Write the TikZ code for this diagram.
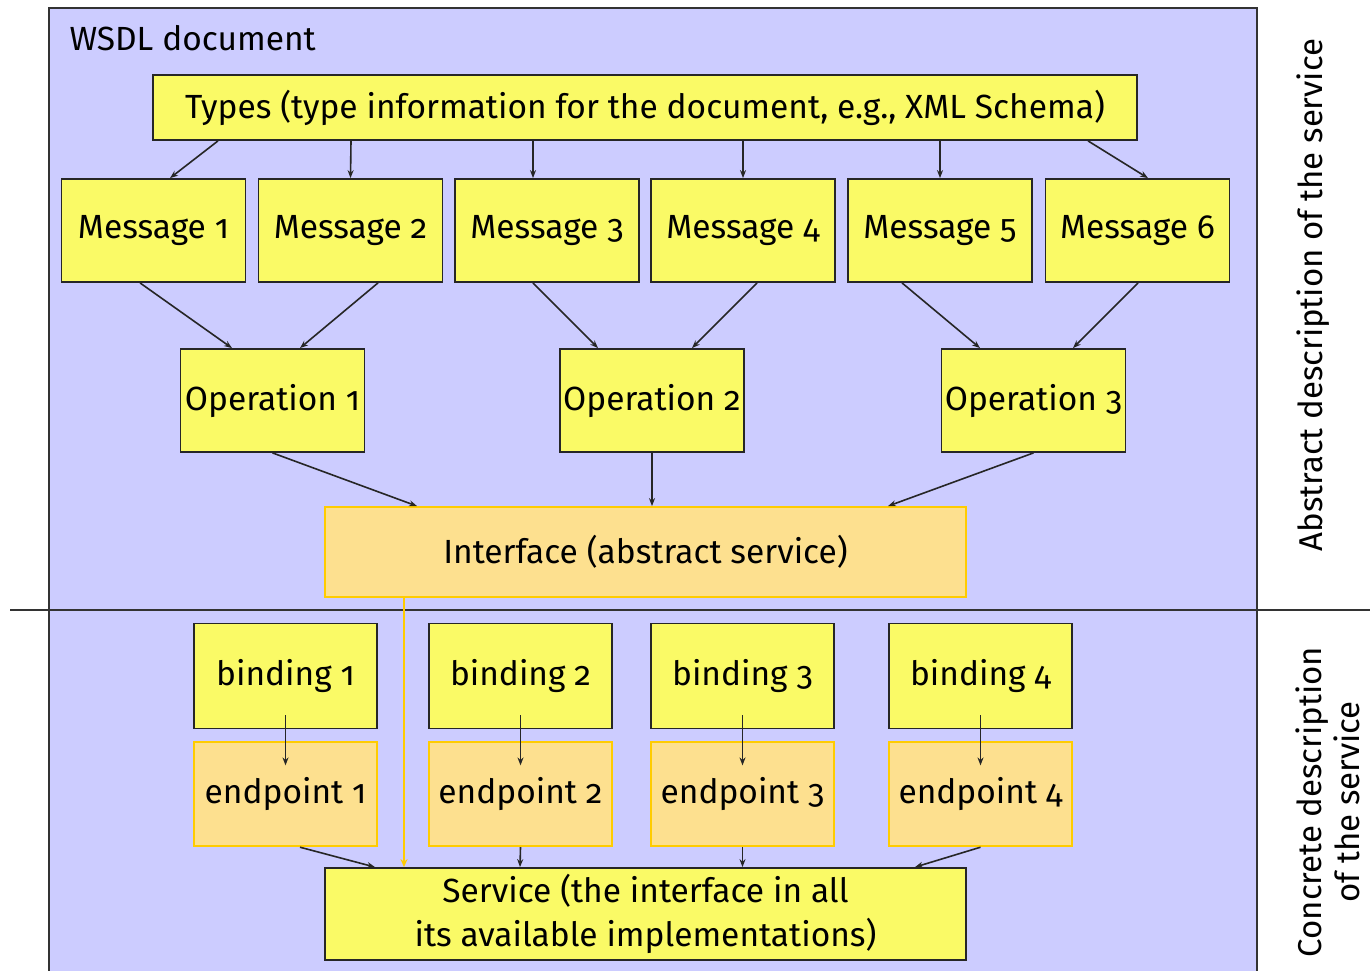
\documentclass[tikz,border=0pt]{standalone}
\usepackage{fontspec}
\setmainfont{Fira Sans}[Numbers=OldStyle]
\usepackage{xcolor}
\usetikzlibrary{arrows.meta, calc, positioning}

\definecolor{docblue}{RGB}{204,204,255}
\definecolor{partyellow}{RGB}{250,250,102}
\definecolor{softorange}{RGB}{253,224,143}
\definecolor{goldline}{RGB}{255,204,0}

\tikzset{
    part/.style     = {draw=black!85, fill=partyellow, line width=1.8pt, inner sep=0pt,
                       font=\fontsize{33.5}{44}\selectfont, align=center},
    abstr/.style    = {part, draw=goldline, fill=softorange},
    msgbox/.style   = {part, minimum width=184pt, minimum height=103pt},
    opbox/.style    = {part, minimum width=184pt, minimum height=103pt},
    bindbox/.style  = {part, minimum width=183pt, minimum height=105pt},
    endbox/.style   = {abstr, minimum width=183pt, minimum height=104pt},
    link/.style     = {-{Stealth[length=8pt,width=6pt]}, line width=1.6pt, black!85},
    sidelabel/.style = {font=\fontsize{33}{38}\selectfont, rotate=90, align=center}
}

\begin{document}
\begin{tikzpicture}[x=1pt, y=-1pt]
    \useasboundingbox (0,0) rectangle (1370,971);
    \fill[white] (0,0) rectangle (1370,971);

    % document frame
    \draw[fill=docblue, line width=1.8pt, draw=black!80] (49,1010) -- (49,8) -- (1257,8) -- (1257,1010);
    \draw[line width=1.8pt, black!80] (10,610) -- (1370,610);
    \node[anchor=west, font=\fontsize{33.5}{38}\selectfont] (doc) at (66,38) {WSDL document};

    % abstract part
    \node[part, minimum width=984pt, minimum height=65pt] (types) at (645,107.5)
        {Types (type information for the document, e.g., XML Schema)};

    \node[msgbox] (m1) at (153.5,230.5) {Message 1};
    \node[msgbox] (m2) at (350.5,230.5) {Message 2};
    \node[msgbox] (m3) at (547,230.5)   {Message 3};
    \node[msgbox] (m4) at (743,230.5)   {Message 4};
    \node[msgbox] (m5) at (940,230.5)   {Message 5};
    \node[msgbox] (m6) at (1137.5,230.5) {Message 6};

    \node[opbox] (op1) at (272.5,400.5) {Operation 1};
    \node[opbox] (op2) at (652,400.5)   {Operation 2};
    \node[opbox] (op3) at (1033.5,400.5) {Operation 3};

    \node[abstr, minimum width=641pt, minimum height=90pt] (iface) at (645.5,552)
        {Interface (abstract service)};

    % concrete part
    \node[bindbox] (b1) at (285.5,676) {binding 1};
    \node[bindbox] (b2) at (520.5,676) {binding 2};
    \node[bindbox] (b3) at (742.5,676) {binding 3};
    \node[bindbox] (b4) at (980.5,676) {binding 4};

    \node[endbox, below=12pt of b1] (e1) {endpoint 1};
    \node[endbox, below=12pt of b2] (e2) {endpoint 2};
    \node[endbox, below=12pt of b3] (e3) {endpoint 3};
    \node[endbox, below=12pt of b4] (e4) {endpoint 4};

    \node[part, minimum width=641pt, minimum height=92pt] (svc) at (645.5,914)
        {Service (the interface in all\\its available implementations)};

    \node[sidelabel] (abs) at (1313,295) {Abstract description of the service};
    \node[sidelabel] (con) at (1328,802) {Concrete description\\of the service};

    % types -> messages
    \draw[link] ([xshift=-427pt]types.south) -- ([xshift=16.5pt]m1.north);
    \draw[link] ([xshift=-294pt]types.south) -- (m2.north);
    \draw[link] ([xshift=-112pt]types.south) -- ([xshift=-14pt]m3.north);
    \draw[link] ([xshift=98pt]types.south)   -- (m4.north);
    \draw[link] ([xshift=295pt]types.south)  -- (m5.north);
    \draw[link] ([xshift=443pt]types.south)  -- ([xshift=10.5pt]m6.north);

    % messages -> operations
    \draw[link] ([xshift=-13.5pt]m1.south) -- ([xshift=-40.5pt]op1.north);
    \draw[link] ([xshift=27.5pt]m2.south)  -- ([xshift=27.5pt]op1.north);
    \draw[link] ([xshift=-14pt]m3.south)   -- ([xshift=-54pt]op2.north);
    \draw[link] ([xshift=14pt]m4.south)    -- ([xshift=40pt]op2.north);
    \draw[link] ([xshift=-38pt]m5.south)   -- ([xshift=-53.5pt]op3.north);
    \draw[link] ([xshift=0.5pt]m6.south)   -- ([xshift=39.5pt]op3.north);

    % operations -> interface
    \draw[link] (op1.south) -- ([xshift=-228.5pt]iface.north);
    \draw[link] (op2.south) -- ([xshift=6.5pt]iface.north);
    \draw[link] (op3.south) -- ([xshift=242.5pt]iface.north);

    % bindings -> endpoints
    \foreach \n in {1,...,4}
        \draw[link, shorten <=-14pt, shorten >=-24pt] (b\n.south) -- (e\n.north);

    % endpoints -> service
    \draw[link] ([xshift=14.5pt]e1.south) -- ([xshift=-270.5pt]svc.north);
    \draw[link] (e2.south) -- ([xshift=-125.5pt]svc.north);
    \draw[link] (e3.south) -- ([xshift=97pt]svc.north);
    \draw[link] (e4.south) -- ([xshift=269.5pt]svc.north);

    % interface -> service
    \draw[-{Stealth[length=8pt,width=7pt]}, line width=1.8pt, goldline]
        ([xshift=-241.5pt]iface.south) -- ([xshift=-241.5pt]svc.north);
\end{tikzpicture}
\end{document}
